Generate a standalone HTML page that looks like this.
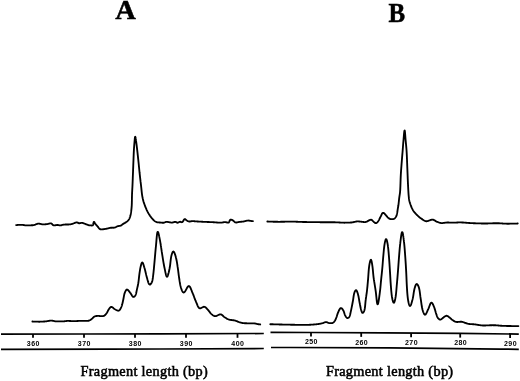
<!DOCTYPE html>
<html><head><meta charset="utf-8"><style>
html,body{margin:0;padding:0;background:#fff;}
body{width:520px;height:381px;overflow:hidden;position:relative;}
svg{position:absolute;left:0;top:0;display:block;will-change:transform;}
.tk{font-family:"Liberation Sans",sans-serif;font-size:7px;text-anchor:middle;letter-spacing:0.8px;fill:#000;}
.tb{font-weight:bold;letter-spacing:0.4px;}
.lbl{font-family:"Liberation Serif",serif;font-weight:bold;font-size:27px;fill:#000;stroke:#000;stroke-width:0.5px;}
.xl{font-family:"Liberation Serif",serif;font-size:14.3px;letter-spacing:0.3px;fill:#000;stroke:#000;stroke-width:0.55px;}
</style></head><body>
<svg width="520" height="381" viewBox="0 0 520 381">
<text x="115.3" y="18.7" class="lbl" textLength="20.6" lengthAdjust="spacingAndGlyphs">A</text>
<text x="388.6" y="21.7" class="lbl" textLength="16.6" lengthAdjust="spacingAndGlyphs">B</text>
<g fill="none" stroke="#000" stroke-width="1.85" stroke-linejoin="round" stroke-linecap="round">
<path d="M16.14 225.16 L16.46 225.11 L16.90 225.05 L17.39 224.99 L17.88 224.94 L18.38 224.90 L18.88 224.87 L19.38 224.85 L19.88 224.83 L20.38 224.81 L20.88 224.81 L21.38 224.81 L21.88 224.82 L22.38 224.85 L22.87 224.91 L23.37 224.99 L23.86 225.07 L24.35 225.16 L24.84 225.25 L25.34 225.32 L25.83 225.36 L26.33 225.39 L26.83 225.39 L27.33 225.39 L27.83 225.39 L28.33 225.38 L28.83 225.37 L29.33 225.36 L29.83 225.34 L30.33 225.33 L30.83 225.31 L31.33 225.29 L31.83 225.27 L32.33 225.24 L32.83 225.21 L33.32 225.16 L33.82 225.08 L34.30 224.96 L34.77 224.81 L35.24 224.64 L35.70 224.45 L36.16 224.26 L36.63 224.07 L37.10 223.91 L37.58 223.77 L38.07 223.68 L38.56 223.64 L39.06 223.66 L39.55 223.71 L40.04 223.80 L40.53 223.91 L41.01 224.03 L41.50 224.14 L41.99 224.25 L42.48 224.32 L42.98 224.37 L43.48 224.38 L43.98 224.37 L44.48 224.35 L44.97 224.32 L45.47 224.27 L45.97 224.22 L46.47 224.17 L46.96 224.11 L47.46 224.04 L47.95 223.95 L48.43 223.84 L48.91 223.70 L49.39 223.55 L49.87 223.42 L50.35 223.32 L50.83 223.31 L51.28 223.43 L51.68 223.68 L52.04 224.01 L52.37 224.38 L52.71 224.74 L53.07 225.07 L53.48 225.30 L53.94 225.41 L54.42 225.41 L54.91 225.35 L55.40 225.26 L55.89 225.16 L56.38 225.07 L56.88 224.99 L57.37 224.95 L57.86 224.97 L58.35 225.06 L58.83 225.19 L59.30 225.33 L59.79 225.42 L60.28 225.43 L60.77 225.37 L61.25 225.27 L61.73 225.13 L62.21 224.98 L62.69 224.84 L63.17 224.72 L63.66 224.64 L64.16 224.59 L64.66 224.56 L65.16 224.54 L65.66 224.53 L66.16 224.52 L66.66 224.51 L67.16 224.50 L67.66 224.49 L68.16 224.47 L68.66 224.46 L69.16 224.44 L69.65 224.41 L70.15 224.36 L70.64 224.29 L71.13 224.19 L71.61 224.06 L72.09 223.92 L72.57 223.77 L73.04 223.61 L73.52 223.44 L73.98 223.26 L74.44 223.07 L74.90 222.87 L75.36 222.68 L75.84 222.53 L76.32 222.42 L76.80 222.39 L77.27 222.48 L77.71 222.67 L78.14 222.90 L78.58 223.13 L79.03 223.26 L79.51 223.28 L79.99 223.20 L80.46 223.06 L80.94 222.94 L81.43 222.87 L81.92 222.88 L82.41 222.95 L82.89 223.07 L83.36 223.23 L83.83 223.40 L84.30 223.58 L84.76 223.76 L85.23 223.94 L85.70 224.11 L86.17 224.28 L86.64 224.46 L87.10 224.64 L87.57 224.82 L88.04 224.99 L88.51 225.14 L89.00 225.26 L89.49 225.34 L89.98 225.40 L90.48 225.43 L90.98 225.45 L91.48 225.47 L91.98 225.47 L92.44 225.43 L92.83 225.27 L93.10 224.95 L93.26 224.52 L93.35 224.04 L93.42 223.55 L93.49 223.05 L93.57 222.57 L93.69 222.15 L93.88 221.90 L94.13 221.93 L94.39 222.21 L94.63 222.61 L94.88 223.04 L95.14 223.46 L95.42 223.88 L95.73 224.27 L96.04 224.66 L96.37 225.04 L96.70 225.42 L97.03 225.79 L97.36 226.16 L97.69 226.54 L97.99 226.93 L98.29 227.33 L98.59 227.74 L98.89 228.13 L99.22 228.51 L99.57 228.85 L99.97 229.12 L100.42 229.29 L100.90 229.36 L101.40 229.37 L101.89 229.34 L102.39 229.31 L102.89 229.27 L103.39 229.22 L103.89 229.17 L104.38 229.11 L104.87 229.03 L105.37 228.94 L105.86 228.84 L106.35 228.74 L106.84 228.64 L107.32 228.53 L107.81 228.42 L108.30 228.31 L108.78 228.18 L109.27 228.06 L109.75 227.94 L110.24 227.84 L110.73 227.77 L111.23 227.73 L111.73 227.71 L112.23 227.70 L112.73 227.70 L113.23 227.70 L113.73 227.70 L114.23 227.67 L114.71 227.61 L115.18 227.47 L115.63 227.26 L116.05 227.00 L116.47 226.74 L116.91 226.50 L117.36 226.30 L117.83 226.16 L118.32 226.06 L118.82 225.99 L119.31 225.92 L119.80 225.84 L120.29 225.74 L120.76 225.58 L121.20 225.36 L121.61 225.09 L122.00 224.78 L122.38 224.46 L122.77 224.14 L123.17 223.85 L123.60 223.59 L124.03 223.35 L124.48 223.12 L124.92 222.88 L125.35 222.63 L125.78 222.37 L126.19 222.09 L126.60 221.80 L127.00 221.50 L127.38 221.18 L127.75 220.85 L128.10 220.49 L128.42 220.11 L128.73 219.72 L129.01 219.30 L129.26 218.87 L129.49 218.43 L129.69 217.97 L129.87 217.51 L130.03 217.04 L130.18 216.56 L130.32 216.08 L130.45 215.60 L130.57 215.11 L130.67 214.62 L130.77 214.13 L130.86 213.64 L130.93 213.15 L131.01 212.65 L131.08 212.16 L131.14 211.66 L131.21 211.17 L131.27 210.67 L131.33 210.17 L131.39 209.68 L131.44 209.18 L131.49 208.68 L131.54 208.18 L131.58 207.69 L131.62 207.19 L131.66 206.69 L131.70 206.19 L131.73 205.69 L131.75 205.19 L131.78 204.69 L131.80 204.19 L131.82 203.69 L131.83 203.19 L131.84 202.69 L131.86 202.19 L131.87 201.69 L131.88 201.19 L131.89 200.69 L131.90 200.19 L131.90 199.69 L131.91 199.19 L131.92 198.69 L131.93 198.19 L131.94 197.69 L131.95 197.19 L131.96 196.69 L131.97 196.19 L131.98 195.69 L132.00 195.19 L132.01 194.70 L132.03 194.20 L132.05 193.70 L132.07 193.20 L132.09 192.70 L132.12 192.20 L132.14 191.70 L132.17 191.20 L132.19 190.70 L132.22 190.20 L132.25 189.70 L132.28 189.20 L132.31 188.70 L132.33 188.20 L132.36 187.70 L132.39 187.20 L132.42 186.71 L132.44 186.21 L132.47 185.71 L132.49 185.21 L132.51 184.71 L132.53 184.21 L132.56 183.71 L132.58 183.21 L132.60 182.71 L132.62 182.21 L132.64 181.71 L132.66 181.21 L132.68 180.71 L132.70 180.21 L132.72 179.71 L132.74 179.21 L132.76 178.71 L132.78 178.21 L132.79 177.71 L132.81 177.21 L132.83 176.71 L132.85 176.21 L132.87 175.72 L132.89 175.22 L132.91 174.72 L132.93 174.22 L132.95 173.72 L132.97 173.22 L132.99 172.72 L133.01 172.22 L133.03 171.72 L133.05 171.22 L133.06 170.72 L133.08 170.22 L133.10 169.72 L133.12 169.22 L133.14 168.72 L133.16 168.22 L133.18 167.72 L133.20 167.22 L133.22 166.72 L133.24 166.22 L133.25 165.72 L133.27 165.22 L133.29 164.72 L133.31 164.22 L133.33 163.72 L133.35 163.22 L133.37 162.72 L133.39 162.23 L133.41 161.73 L133.43 161.23 L133.45 160.73 L133.47 160.23 L133.49 159.73 L133.51 159.23 L133.53 158.73 L133.54 158.23 L133.56 157.73 L133.58 157.23 L133.60 156.73 L133.62 156.23 L133.64 155.73 L133.66 155.23 L133.68 154.73 L133.70 154.23 L133.72 153.73 L133.74 153.23 L133.76 152.73 L133.79 152.23 L133.81 151.73 L133.84 151.23 L133.86 150.73 L133.89 150.24 L133.92 149.74 L133.94 149.24 L133.97 148.74 L134.01 148.24 L134.04 147.74 L134.07 147.24 L134.11 146.74 L134.14 146.24 L134.18 145.75 L134.22 145.25 L134.26 144.75 L134.30 144.25 L134.34 143.75 L134.39 143.25 L134.43 142.76 L134.48 142.26 L134.52 141.76 L134.56 141.26 L134.61 140.76 L134.65 140.27 L134.69 139.77 L134.74 139.27 L134.78 138.77 L134.84 138.27 L134.89 137.78 L134.96 137.30 L135.07 136.91 L135.20 136.74 L135.35 136.87 L135.47 137.23 L135.57 137.70 L135.66 138.19 L135.73 138.69 L135.81 139.18 L135.88 139.67 L135.95 140.17 L136.01 140.67 L136.08 141.16 L136.15 141.66 L136.22 142.15 L136.29 142.65 L136.36 143.14 L136.43 143.64 L136.49 144.13 L136.56 144.63 L136.62 145.12 L136.68 145.62 L136.74 146.12 L136.80 146.61 L136.86 147.11 L136.92 147.61 L136.98 148.10 L137.04 148.60 L137.09 149.10 L137.15 149.59 L137.21 150.09 L137.27 150.59 L137.33 151.08 L137.38 151.58 L137.44 152.08 L137.49 152.57 L137.55 153.07 L137.60 153.57 L137.66 154.06 L137.71 154.56 L137.77 155.06 L137.82 155.56 L137.88 156.05 L137.93 156.55 L137.98 157.05 L138.04 157.54 L138.09 158.04 L138.14 158.54 L138.19 159.04 L138.25 159.53 L138.30 160.03 L138.35 160.53 L138.40 161.02 L138.45 161.52 L138.51 162.02 L138.56 162.52 L138.61 163.01 L138.66 163.51 L138.71 164.01 L138.76 164.51 L138.81 165.00 L138.85 165.50 L138.90 166.00 L138.95 166.50 L139.00 166.99 L139.05 167.49 L139.10 167.99 L139.15 168.49 L139.20 168.98 L139.25 169.48 L139.29 169.98 L139.34 170.48 L139.39 170.98 L139.44 171.47 L139.49 171.97 L139.54 172.47 L139.60 172.96 L139.65 173.46 L139.70 173.96 L139.75 174.46 L139.81 174.95 L139.86 175.45 L139.91 175.95 L139.97 176.44 L140.03 176.94 L140.08 177.44 L140.14 177.94 L140.20 178.43 L140.25 178.93 L140.31 179.43 L140.37 179.92 L140.43 180.42 L140.49 180.92 L140.55 181.41 L140.60 181.91 L140.66 182.40 L140.72 182.90 L140.78 183.40 L140.84 183.89 L140.90 184.39 L140.96 184.89 L141.01 185.38 L141.07 185.88 L141.13 186.38 L141.18 186.87 L141.24 187.37 L141.29 187.87 L141.35 188.37 L141.40 188.86 L141.45 189.36 L141.50 189.86 L141.55 190.36 L141.60 190.85 L141.65 191.35 L141.71 191.85 L141.76 192.34 L141.82 192.84 L141.88 193.34 L141.94 193.83 L142.01 194.33 L142.08 194.82 L142.15 195.32 L142.23 195.81 L142.32 196.30 L142.41 196.80 L142.50 197.29 L142.60 197.78 L142.70 198.27 L142.81 198.75 L142.92 199.24 L143.04 199.73 L143.16 200.21 L143.29 200.70 L143.42 201.18 L143.56 201.66 L143.71 202.13 L143.86 202.61 L144.02 203.09 L144.18 203.56 L144.34 204.03 L144.51 204.50 L144.68 204.98 L144.85 205.44 L145.02 205.91 L145.20 206.38 L145.39 206.85 L145.57 207.31 L145.76 207.77 L145.96 208.23 L146.16 208.69 L146.36 209.15 L146.56 209.60 L146.77 210.06 L146.99 210.51 L147.20 210.96 L147.43 211.41 L147.65 211.85 L147.89 212.29 L148.13 212.73 L148.37 213.17 L148.62 213.60 L148.88 214.03 L149.15 214.45 L149.41 214.88 L149.69 215.29 L149.97 215.71 L150.26 216.12 L150.55 216.52 L150.85 216.92 L151.15 217.32 L151.47 217.71 L151.78 218.10 L152.10 218.48 L152.43 218.86 L152.75 219.24 L153.09 219.61 L153.43 219.97 L153.79 220.32 L154.17 220.64 L154.57 220.95 L154.98 221.23 L155.40 221.49 L155.84 221.73 L156.29 221.95 L156.75 222.14 L157.22 222.28 L157.71 222.37 L158.21 222.42 L158.71 222.45 L159.20 222.47 L159.70 222.49 L160.20 222.52 L160.70 222.56 L161.20 222.61 L161.70 222.67 L162.19 222.71 L162.69 222.75 L163.19 222.76 L163.68 222.73 L164.16 222.62 L164.63 222.46 L165.09 222.26 L165.55 222.08 L166.02 221.93 L166.50 221.86 L167.00 221.85 L167.49 221.89 L167.99 221.96 L168.48 222.05 L168.97 222.15 L169.46 222.26 L169.95 222.35 L170.44 222.44 L170.93 222.51 L171.43 222.56 L171.92 222.56 L172.42 222.51 L172.91 222.42 L173.39 222.28 L173.86 222.14 L174.34 222.01 L174.83 221.91 L175.31 221.89 L175.78 221.98 L176.23 222.17 L176.66 222.40 L177.09 222.62 L177.54 222.74 L177.99 222.70 L178.42 222.52 L178.83 222.26 L179.24 221.99 L179.68 221.80 L180.13 221.75 L180.59 221.85 L181.04 222.02 L181.48 222.18 L181.92 222.21 L182.33 222.07 L182.68 221.77 L182.97 221.38 L183.22 220.95 L183.46 220.51 L183.70 220.07 L183.97 219.66 L184.29 219.33 L184.66 219.14 L185.07 219.16 L185.46 219.38 L185.83 219.69 L186.20 220.02 L186.59 220.32 L187.01 220.59 L187.44 220.84 L187.88 221.07 L188.34 221.27 L188.81 221.43 L189.29 221.52 L189.78 221.52 L190.27 221.46 L190.75 221.35 L191.24 221.23 L191.73 221.16 L192.22 221.12 L192.72 221.13 L193.22 221.15 L193.72 221.18 L194.22 221.21 L194.72 221.25 L195.21 221.30 L195.71 221.34 L196.21 221.38 L196.71 221.43 L197.21 221.46 L197.71 221.50 L198.21 221.53 L198.70 221.56 L199.20 221.59 L199.70 221.61 L200.20 221.64 L200.70 221.67 L201.20 221.70 L201.70 221.72 L202.20 221.75 L202.70 221.77 L203.20 221.80 L203.70 221.82 L204.20 221.84 L204.70 221.87 L205.20 221.89 L205.70 221.91 L206.19 221.93 L206.69 221.95 L207.19 221.97 L207.69 221.99 L208.19 222.01 L208.69 222.03 L209.19 222.04 L209.69 222.06 L210.19 222.08 L210.69 222.10 L211.19 222.12 L211.69 222.14 L212.19 222.16 L212.69 222.18 L213.19 222.21 L213.69 222.24 L214.19 222.27 L214.69 222.31 L215.18 222.35 L215.68 222.39 L216.18 222.43 L216.68 222.47 L217.18 222.51 L217.68 222.55 L218.17 222.59 L218.67 222.62 L219.17 222.65 L219.67 222.67 L220.17 222.69 L220.67 222.69 L221.17 222.66 L221.67 222.62 L222.16 222.55 L222.65 222.46 L223.14 222.36 L223.63 222.27 L224.13 222.20 L224.62 222.15 L225.12 222.14 L225.62 222.18 L226.11 222.26 L226.59 222.37 L227.08 222.49 L227.56 222.61 L228.03 222.67 L228.47 222.62 L228.84 222.39 L229.12 222.03 L229.33 221.59 L229.51 221.13 L229.69 220.66 L229.90 220.23 L230.19 219.88 L230.56 219.68 L231.00 219.66 L231.47 219.76 L231.94 219.93 L232.39 220.13 L232.83 220.36 L233.24 220.64 L233.62 220.96 L233.98 221.31 L234.33 221.66 L234.69 221.99 L235.09 222.27 L235.53 222.45 L236.01 222.52 L236.50 222.50 L236.99 222.42 L237.47 222.31 L237.96 222.20 L238.45 222.10 L238.94 222.01 L239.44 221.94 L239.93 221.88 L240.43 221.83 L240.93 221.78 L241.42 221.73 L241.92 221.68 L242.42 221.63 L242.92 221.57 L243.41 221.50 L243.90 221.41 L244.39 221.31 L244.87 221.19 L245.36 221.06 L245.84 220.92 L246.32 220.80 L246.81 220.69 L247.30 220.60 L247.80 220.55 L248.29 220.54 L248.79 220.58 L249.28 220.66 L249.77 220.75 L250.26 220.85 L250.75 220.93 L251.25 220.99 L251.74 221.05 L252.22 221.11 L252.65 221.15 L252.90 221.17"/>
<path d="M32.40 321.51 L32.74 321.53 L33.20 321.56 L33.70 321.58 L34.20 321.61 L34.70 321.63 L35.20 321.64 L35.70 321.66 L36.20 321.67 L36.70 321.68 L37.20 321.69 L37.70 321.69 L38.20 321.70 L38.70 321.70 L39.20 321.70 L39.70 321.70 L40.20 321.69 L40.70 321.68 L41.20 321.67 L41.70 321.65 L42.19 321.63 L42.69 321.60 L43.19 321.57 L43.69 321.54 L44.19 321.51 L44.69 321.47 L45.19 321.44 L45.69 321.40 L46.18 321.34 L46.68 321.27 L47.17 321.19 L47.66 321.10 L48.15 321.00 L48.64 320.90 L49.14 320.81 L49.63 320.73 L50.12 320.67 L50.62 320.63 L51.12 320.62 L51.62 320.64 L52.12 320.69 L52.61 320.76 L53.10 320.85 L53.59 320.96 L54.08 321.06 L54.57 321.16 L55.06 321.25 L55.55 321.32 L56.05 321.37 L56.55 321.39 L57.05 321.40 L57.55 321.40 L58.05 321.40 L58.55 321.40 L59.05 321.40 L59.55 321.40 L60.05 321.40 L60.55 321.40 L61.05 321.40 L61.55 321.40 L62.05 321.40 L62.55 321.40 L63.05 321.38 L63.55 321.35 L64.05 321.31 L64.54 321.25 L65.04 321.19 L65.53 321.12 L66.03 321.05 L66.53 321.00 L67.02 320.95 L67.52 320.92 L68.02 320.91 L68.52 320.91 L69.02 320.93 L69.52 320.96 L70.02 320.99 L70.52 321.02 L71.02 321.06 L71.52 321.10 L72.01 321.13 L72.51 321.16 L73.01 321.18 L73.51 321.19 L74.01 321.19 L74.51 321.18 L75.01 321.17 L75.51 321.14 L76.01 321.11 L76.51 321.08 L77.01 321.04 L77.51 321.00 L78.01 320.97 L78.50 320.93 L79.00 320.89 L79.50 320.86 L80.00 320.84 L80.50 320.82 L81.00 320.81 L81.50 320.80 L82.00 320.80 L82.50 320.80 L83.00 320.80 L83.50 320.80 L84.00 320.80 L84.50 320.80 L85.00 320.80 L85.50 320.80 L86.00 320.80 L86.50 320.80 L87.00 320.80 L87.50 320.80 L88.00 320.79 L88.49 320.75 L88.97 320.64 L89.43 320.46 L89.87 320.22 L90.29 319.95 L90.71 319.67 L91.12 319.39 L91.53 319.10 L91.92 318.79 L92.29 318.46 L92.65 318.11 L93.00 317.76 L93.36 317.41 L93.72 317.07 L94.11 316.76 L94.53 316.49 L94.98 316.30 L95.46 316.17 L95.95 316.09 L96.45 316.02 L96.95 315.97 L97.44 315.94 L97.94 315.92 L98.44 315.92 L98.94 315.94 L99.44 315.99 L99.93 316.05 L100.43 316.11 L100.93 316.16 L101.43 316.18 L101.92 316.17 L102.42 316.13 L102.92 316.06 L103.41 315.97 L103.88 315.83 L104.33 315.63 L104.74 315.35 L105.11 315.02 L105.45 314.66 L105.77 314.28 L106.08 313.88 L106.38 313.48 L106.68 313.08 L106.95 312.66 L107.21 312.23 L107.45 311.79 L107.67 311.35 L107.89 310.90 L108.12 310.46 L108.36 310.02 L108.61 309.59 L108.89 309.17 L109.18 308.76 L109.48 308.36 L109.79 307.97 L110.11 307.59 L110.47 307.26 L110.88 307.01 L111.33 306.90 L111.80 306.97 L112.24 307.17 L112.65 307.45 L113.04 307.76 L113.42 308.09 L113.79 308.42 L114.17 308.74 L114.57 309.04 L114.99 309.32 L115.42 309.57 L115.86 309.81 L116.30 310.04 L116.75 310.26 L117.20 310.47 L117.67 310.63 L118.15 310.71 L118.62 310.68 L119.06 310.49 L119.44 310.19 L119.77 309.82 L120.07 309.42 L120.34 309.00 L120.58 308.57 L120.82 308.13 L121.03 307.68 L121.24 307.22 L121.43 306.76 L121.61 306.29 L121.78 305.82 L121.93 305.35 L122.07 304.87 L122.20 304.38 L122.32 303.90 L122.44 303.41 L122.55 302.93 L122.66 302.44 L122.77 301.95 L122.87 301.46 L122.98 300.97 L123.09 300.48 L123.20 300.00 L123.31 299.51 L123.41 299.02 L123.50 298.53 L123.59 298.03 L123.67 297.54 L123.76 297.05 L123.84 296.56 L123.93 296.06 L124.03 295.57 L124.13 295.08 L124.24 294.60 L124.36 294.11 L124.50 293.63 L124.66 293.16 L124.82 292.69 L125.00 292.22 L125.20 291.76 L125.41 291.30 L125.63 290.86 L125.89 290.43 L126.18 290.03 L126.53 289.71 L126.94 289.55 L127.37 289.61 L127.78 289.84 L128.15 290.17 L128.48 290.55 L128.79 290.93 L129.10 291.33 L129.40 291.73 L129.70 292.13 L130.00 292.53 L130.31 292.92 L130.61 293.32 L130.89 293.73 L131.15 294.16 L131.41 294.59 L131.66 295.02 L131.92 295.45 L132.19 295.87 L132.48 296.27 L132.82 296.63 L133.21 296.88 L133.64 296.96 L134.08 296.83 L134.47 296.55 L134.81 296.20 L135.11 295.80 L135.38 295.38 L135.60 294.93 L135.78 294.47 L135.94 294.00 L136.08 293.52 L136.20 293.03 L136.31 292.54 L136.41 292.05 L136.50 291.56 L136.60 291.07 L136.70 290.58 L136.80 290.09 L136.90 289.60 L137.01 289.12 L137.13 288.63 L137.24 288.14 L137.35 287.66 L137.46 287.17 L137.57 286.68 L137.68 286.19 L137.79 285.70 L137.89 285.21 L137.99 284.72 L138.08 284.23 L138.17 283.74 L138.26 283.25 L138.34 282.75 L138.41 282.26 L138.48 281.77 L138.55 281.27 L138.61 280.77 L138.67 280.28 L138.73 279.78 L138.79 279.28 L138.84 278.79 L138.90 278.29 L138.95 277.79 L139.01 277.30 L139.06 276.80 L139.12 276.30 L139.18 275.81 L139.23 275.31 L139.30 274.81 L139.36 274.32 L139.43 273.82 L139.50 273.33 L139.57 272.83 L139.64 272.34 L139.71 271.84 L139.79 271.35 L139.87 270.85 L139.94 270.36 L140.02 269.87 L140.11 269.37 L140.19 268.88 L140.28 268.39 L140.38 267.90 L140.48 267.41 L140.59 266.92 L140.70 266.43 L140.81 265.95 L140.94 265.46 L141.06 264.98 L141.19 264.50 L141.33 264.01 L141.48 263.54 L141.65 263.08 L141.88 262.67 L142.18 262.46 L142.50 262.55 L142.78 262.88 L143.00 263.32 L143.19 263.78 L143.36 264.25 L143.52 264.73 L143.67 265.20 L143.81 265.68 L143.95 266.16 L144.08 266.64 L144.22 267.12 L144.35 267.61 L144.49 268.09 L144.63 268.57 L144.77 269.05 L144.91 269.53 L145.04 270.01 L145.17 270.49 L145.29 270.98 L145.41 271.46 L145.52 271.95 L145.63 272.44 L145.75 272.93 L145.86 273.41 L145.97 273.90 L146.08 274.39 L146.19 274.88 L146.31 275.36 L146.43 275.85 L146.55 276.33 L146.68 276.81 L146.82 277.29 L146.96 277.77 L147.10 278.25 L147.24 278.73 L147.38 279.21 L147.51 279.70 L147.65 280.18 L147.78 280.66 L147.92 281.14 L148.06 281.62 L148.21 282.10 L148.36 282.57 L148.54 283.04 L148.73 283.50 L148.95 283.94 L149.23 284.33 L149.59 284.58 L150.00 284.59 L150.38 284.37 L150.73 284.03 L151.03 283.64 L151.31 283.22 L151.56 282.79 L151.78 282.35 L151.98 281.89 L152.14 281.41 L152.28 280.93 L152.39 280.45 L152.50 279.96 L152.60 279.47 L152.68 278.98 L152.76 278.48 L152.84 277.99 L152.91 277.49 L152.97 277.00 L153.03 276.50 L153.09 276.01 L153.15 275.51 L153.20 275.01 L153.26 274.52 L153.32 274.02 L153.37 273.52 L153.43 273.03 L153.49 272.53 L153.55 272.03 L153.60 271.53 L153.65 271.04 L153.70 270.54 L153.75 270.04 L153.80 269.54 L153.85 269.05 L153.90 268.55 L153.94 268.05 L153.99 267.55 L154.03 267.06 L154.08 266.56 L154.12 266.06 L154.17 265.56 L154.21 265.06 L154.26 264.57 L154.30 264.07 L154.35 263.57 L154.39 263.07 L154.44 262.57 L154.49 262.08 L154.53 261.58 L154.58 261.08 L154.62 260.58 L154.67 260.08 L154.71 259.59 L154.75 259.09 L154.80 258.59 L154.84 258.09 L154.88 257.59 L154.93 257.10 L154.97 256.60 L155.01 256.10 L155.06 255.60 L155.10 255.10 L155.14 254.61 L155.19 254.11 L155.23 253.61 L155.27 253.11 L155.32 252.61 L155.36 252.11 L155.41 251.62 L155.45 251.12 L155.50 250.62 L155.55 250.12 L155.60 249.63 L155.64 249.13 L155.69 248.63 L155.74 248.13 L155.79 247.64 L155.84 247.14 L155.90 246.64 L155.95 246.14 L155.99 245.65 L156.04 245.15 L156.09 244.65 L156.13 244.15 L156.17 243.65 L156.21 243.16 L156.26 242.66 L156.30 242.16 L156.34 241.66 L156.38 241.16 L156.42 240.66 L156.46 240.17 L156.50 239.67 L156.55 239.17 L156.59 238.67 L156.63 238.17 L156.68 237.67 L156.72 237.18 L156.77 236.68 L156.82 236.18 L156.88 235.68 L156.93 235.19 L156.99 234.69 L157.06 234.20 L157.13 233.70 L157.21 233.21 L157.31 232.72 L157.43 232.25 L157.62 231.90 L157.86 231.82 L158.09 232.08 L158.27 232.51 L158.41 232.99 L158.54 233.47 L158.66 233.95 L158.77 234.44 L158.88 234.93 L158.99 235.42 L159.09 235.91 L159.19 236.40 L159.30 236.88 L159.40 237.37 L159.49 237.87 L159.59 238.36 L159.69 238.85 L159.79 239.34 L159.88 239.83 L159.98 240.32 L160.07 240.81 L160.16 241.30 L160.24 241.79 L160.33 242.29 L160.41 242.78 L160.49 243.27 L160.57 243.77 L160.65 244.26 L160.73 244.75 L160.80 245.25 L160.88 245.74 L160.95 246.24 L161.02 246.73 L161.09 247.23 L161.17 247.72 L161.24 248.22 L161.31 248.71 L161.38 249.21 L161.45 249.70 L161.53 250.20 L161.60 250.69 L161.67 251.19 L161.75 251.68 L161.82 252.17 L161.90 252.67 L161.98 253.16 L162.06 253.66 L162.14 254.15 L162.22 254.64 L162.30 255.14 L162.38 255.63 L162.46 256.12 L162.54 256.62 L162.62 257.11 L162.70 257.60 L162.77 258.10 L162.85 258.59 L162.93 259.09 L163.01 259.58 L163.09 260.07 L163.17 260.57 L163.25 261.06 L163.33 261.55 L163.42 262.05 L163.50 262.54 L163.58 263.03 L163.67 263.52 L163.76 264.02 L163.85 264.51 L163.94 265.00 L164.03 265.49 L164.13 265.98 L164.22 266.47 L164.32 266.96 L164.42 267.45 L164.52 267.94 L164.63 268.43 L164.73 268.92 L164.83 269.41 L164.93 269.90 L165.03 270.39 L165.12 270.88 L165.22 271.37 L165.32 271.86 L165.42 272.35 L165.53 272.84 L165.64 273.33 L165.75 273.82 L165.86 274.30 L165.99 274.79 L166.12 275.27 L166.27 275.74 L166.45 276.20 L166.69 276.58 L167.00 276.75 L167.31 276.60 L167.57 276.23 L167.77 275.78 L167.93 275.31 L168.08 274.83 L168.22 274.35 L168.36 273.87 L168.48 273.39 L168.60 272.90 L168.72 272.42 L168.83 271.93 L168.94 271.44 L169.05 270.95 L169.15 270.46 L169.26 269.97 L169.36 269.49 L169.46 269.00 L169.56 268.51 L169.65 268.01 L169.74 267.52 L169.83 267.03 L169.91 266.54 L169.98 266.04 L170.05 265.55 L170.11 265.05 L170.18 264.55 L170.24 264.06 L170.29 263.56 L170.35 263.06 L170.40 262.57 L170.46 262.07 L170.51 261.57 L170.57 261.08 L170.62 260.58 L170.68 260.08 L170.74 259.59 L170.81 259.09 L170.88 258.60 L170.95 258.10 L171.03 257.61 L171.12 257.12 L171.21 256.62 L171.31 256.13 L171.42 255.65 L171.54 255.16 L171.67 254.68 L171.82 254.20 L171.97 253.73 L172.14 253.25 L172.32 252.79 L172.52 252.33 L172.77 251.91 L173.07 251.60 L173.43 251.53 L173.78 251.73 L174.07 252.11 L174.30 252.54 L174.51 253.00 L174.69 253.46 L174.86 253.93 L175.02 254.41 L175.18 254.88 L175.32 255.36 L175.47 255.84 L175.60 256.32 L175.74 256.80 L175.86 257.29 L175.99 257.77 L176.11 258.26 L176.23 258.74 L176.34 259.23 L176.45 259.72 L176.55 260.21 L176.65 260.70 L176.74 261.19 L176.83 261.68 L176.91 262.17 L177.00 262.67 L177.08 263.16 L177.15 263.65 L177.23 264.15 L177.30 264.64 L177.38 265.14 L177.45 265.63 L177.52 266.13 L177.60 266.62 L177.67 267.12 L177.74 267.61 L177.82 268.10 L177.89 268.60 L177.96 269.09 L178.03 269.59 L178.10 270.08 L178.16 270.58 L178.23 271.08 L178.29 271.57 L178.35 272.07 L178.41 272.56 L178.48 273.06 L178.54 273.56 L178.60 274.05 L178.66 274.55 L178.73 275.04 L178.79 275.54 L178.86 276.04 L178.93 276.53 L179.00 277.03 L179.07 277.52 L179.14 278.02 L179.22 278.51 L179.29 279.00 L179.37 279.50 L179.44 279.99 L179.51 280.49 L179.59 280.98 L179.66 281.48 L179.74 281.97 L179.81 282.47 L179.89 282.96 L179.98 283.45 L180.06 283.94 L180.15 284.44 L180.25 284.93 L180.35 285.42 L180.46 285.90 L180.58 286.39 L180.70 286.87 L180.83 287.36 L180.98 287.84 L181.13 288.31 L181.29 288.78 L181.46 289.25 L181.64 289.72 L181.83 290.18 L182.04 290.64 L182.26 291.09 L182.50 291.52 L182.78 291.93 L183.10 292.29 L183.49 292.51 L183.92 292.51 L184.31 292.30 L184.66 291.96 L184.95 291.56 L185.23 291.14 L185.48 290.71 L185.73 290.28 L185.97 289.84 L186.20 289.40 L186.44 288.96 L186.67 288.51 L186.92 288.08 L187.17 287.64 L187.43 287.22 L187.71 286.81 L188.03 286.44 L188.41 286.15 L188.83 286.05 L189.25 286.17 L189.61 286.47 L189.92 286.85 L190.18 287.28 L190.41 287.72 L190.63 288.17 L190.83 288.63 L191.02 289.09 L191.21 289.55 L191.39 290.02 L191.57 290.49 L191.75 290.95 L191.93 291.42 L192.11 291.88 L192.31 292.34 L192.50 292.80 L192.70 293.26 L192.90 293.72 L193.08 294.19 L193.27 294.65 L193.44 295.12 L193.62 295.59 L193.79 296.06 L193.96 296.53 L194.13 297.00 L194.29 297.47 L194.46 297.94 L194.63 298.41 L194.81 298.88 L194.99 299.35 L195.17 299.81 L195.36 300.27 L195.55 300.73 L195.76 301.19 L195.96 301.65 L196.17 302.10 L196.36 302.56 L196.55 303.03 L196.73 303.49 L196.91 303.96 L197.10 304.42 L197.29 304.89 L197.48 305.35 L197.69 305.80 L197.90 306.25 L198.14 306.69 L198.40 307.12 L198.69 307.52 L199.02 307.88 L199.42 308.15 L199.87 308.30 L200.34 308.28 L200.81 308.15 L201.26 307.94 L201.71 307.71 L202.15 307.48 L202.59 307.25 L203.04 307.04 L203.51 306.87 L203.99 306.78 L204.47 306.80 L204.93 306.95 L205.35 307.19 L205.74 307.50 L206.11 307.84 L206.45 308.20 L206.78 308.57 L207.11 308.95 L207.45 309.32 L207.79 309.69 L208.13 310.06 L208.45 310.43 L208.77 310.82 L209.07 311.22 L209.37 311.62 L209.67 312.02 L209.97 312.42 L210.27 312.82 L210.59 313.20 L210.93 313.57 L211.28 313.92 L211.66 314.25 L212.05 314.57 L212.44 314.87 L212.84 315.17 L213.26 315.45 L213.69 315.70 L214.13 315.92 L214.60 316.07 L215.09 316.15 L215.58 316.13 L216.06 316.03 L216.54 315.88 L217.00 315.68 L217.45 315.47 L217.89 315.24 L218.34 315.02 L218.79 314.80 L219.25 314.61 L219.72 314.46 L220.21 314.37 L220.69 314.37 L221.17 314.49 L221.61 314.70 L222.02 314.98 L222.41 315.29 L222.77 315.63 L223.13 315.98 L223.49 316.32 L223.86 316.66 L224.24 316.98 L224.64 317.28 L225.06 317.55 L225.49 317.82 L225.92 318.07 L226.35 318.33 L226.78 318.58 L227.22 318.82 L227.66 319.04 L228.12 319.25 L228.58 319.43 L229.06 319.59 L229.54 319.72 L230.03 319.82 L230.52 319.91 L231.01 319.98 L231.51 320.04 L232.01 320.10 L232.50 320.16 L233.00 320.22 L233.50 320.28 L233.99 320.36 L234.48 320.45 L234.97 320.55 L235.45 320.69 L235.92 320.85 L236.39 321.02 L236.85 321.21 L237.31 321.41 L237.77 321.60 L238.24 321.79 L238.71 321.97 L239.18 322.13 L239.66 322.27 L240.14 322.41 L240.62 322.54 L241.10 322.67 L241.59 322.80 L242.07 322.91 L242.56 323.01 L243.06 323.09 L243.55 323.15 L244.05 323.20 L244.55 323.22 L245.05 323.25 L245.55 323.27 L246.05 323.28 L246.55 323.29 L247.05 323.30 L247.55 323.30 L248.05 323.30 L248.55 323.30 L249.05 323.30 L249.55 323.30 L250.05 323.30 L250.55 323.30 L251.05 323.30 L251.55 323.30 L252.05 323.30 L252.55 323.30 L253.05 323.30 L253.55 323.31 L254.04 323.34 L254.54 323.41 L255.03 323.49 L255.52 323.60 L256.01 323.72 L256.49 323.84 L256.98 323.95 L257.47 324.05 L257.96 324.14 L258.45 324.22 L258.95 324.29 L259.44 324.36 L259.90 324.42 L260.24 324.47"/>
<path d="M267.34 221.51 L267.67 221.53 L268.11 221.54 L268.60 221.56 L269.10 221.59 L269.60 221.60 L270.10 221.62 L270.60 221.64 L271.10 221.66 L271.60 221.67 L272.10 221.69 L272.60 221.70 L273.10 221.72 L273.60 221.73 L274.10 221.74 L274.60 221.75 L275.10 221.76 L275.60 221.77 L276.10 221.78 L276.60 221.78 L277.10 221.79 L277.60 221.79 L278.10 221.80 L278.60 221.80 L279.10 221.80 L279.60 221.80 L280.10 221.80 L280.60 221.79 L281.10 221.79 L281.60 221.78 L282.10 221.77 L282.59 221.76 L283.09 221.75 L283.59 221.74 L284.09 221.73 L284.59 221.71 L285.09 221.70 L285.59 221.69 L286.09 221.68 L286.59 221.66 L287.09 221.65 L287.59 221.64 L288.09 221.63 L288.59 221.62 L289.09 221.61 L289.59 221.61 L290.09 221.60 L290.59 221.60 L291.09 221.60 L291.59 221.60 L292.09 221.61 L292.59 221.62 L293.09 221.63 L293.59 221.64 L294.09 221.65 L294.59 221.66 L295.09 221.68 L295.59 221.70 L296.09 221.72 L296.59 221.74 L297.09 221.76 L297.59 221.78 L298.09 221.80 L298.59 221.82 L299.09 221.84 L299.59 221.86 L300.09 221.88 L300.59 221.90 L301.09 221.92 L301.59 221.93 L302.09 221.95 L302.59 221.97 L303.09 221.98 L303.59 221.99 L304.09 222.00 L304.59 222.01 L305.09 222.02 L305.59 222.03 L306.09 222.04 L306.59 222.04 L307.09 222.05 L307.59 222.06 L308.09 222.07 L308.59 222.07 L309.09 222.08 L309.59 222.09 L310.09 222.09 L310.59 222.10 L311.09 222.11 L311.59 222.11 L312.09 222.12 L312.59 222.13 L313.09 222.13 L313.59 222.14 L314.09 222.14 L314.59 222.15 L315.09 222.15 L315.59 222.16 L316.09 222.16 L316.59 222.17 L317.09 222.17 L317.59 222.18 L318.09 222.18 L318.59 222.19 L319.09 222.19 L319.58 222.20 L320.08 222.20 L320.58 222.20 L321.08 222.21 L321.58 222.21 L322.08 222.21 L322.58 222.22 L323.08 222.22 L323.58 222.22 L324.08 222.23 L324.58 222.23 L325.08 222.23 L325.58 222.23 L326.08 222.23 L326.58 222.24 L327.08 222.24 L327.58 222.24 L328.08 222.24 L328.58 222.24 L329.08 222.25 L329.58 222.25 L330.08 222.25 L330.58 222.25 L331.08 222.26 L331.58 222.26 L332.08 222.26 L332.58 222.27 L333.08 222.27 L333.58 222.28 L334.08 222.28 L334.58 222.28 L335.08 222.29 L335.58 222.30 L336.08 222.30 L336.58 222.32 L337.08 222.34 L337.58 222.36 L338.08 222.39 L338.58 222.42 L339.08 222.46 L339.58 222.49 L340.08 222.53 L340.58 222.56 L341.08 222.60 L341.57 222.63 L342.07 222.65 L342.57 222.67 L343.07 222.69 L343.57 222.70 L344.07 222.70 L344.57 222.70 L345.07 222.69 L345.57 222.69 L346.07 222.68 L346.57 222.67 L347.07 222.66 L347.57 222.64 L348.07 222.63 L348.57 222.61 L349.07 222.60 L349.57 222.58 L350.07 222.56 L350.57 222.54 L351.07 222.51 L351.57 222.47 L352.06 222.42 L352.56 222.35 L353.05 222.25 L353.54 222.14 L354.02 222.02 L354.51 221.90 L354.99 221.78 L355.48 221.67 L355.97 221.57 L356.46 221.50 L356.96 221.44 L357.46 221.42 L357.96 221.42 L358.45 221.44 L358.95 221.47 L359.45 221.52 L359.95 221.57 L360.44 221.63 L360.94 221.69 L361.44 221.76 L361.93 221.82 L362.43 221.88 L362.92 221.94 L363.42 221.99 L363.92 222.04 L364.42 222.07 L364.92 222.07 L365.41 222.03 L365.89 221.94 L366.36 221.78 L366.81 221.57 L367.26 221.34 L367.70 221.11 L368.14 220.88 L368.59 220.65 L369.03 220.42 L369.47 220.18 L369.92 219.96 L370.38 219.79 L370.85 219.72 L371.31 219.78 L371.74 219.97 L372.13 220.25 L372.49 220.59 L372.84 220.95 L373.19 221.31 L373.55 221.65 L373.92 221.98 L374.30 222.31 L374.69 222.62 L375.09 222.90 L375.52 223.09 L375.97 223.14 L376.41 223.02 L376.81 222.76 L377.17 222.43 L377.50 222.06 L377.81 221.67 L378.11 221.27 L378.40 220.86 L378.67 220.44 L378.92 220.01 L379.16 219.57 L379.38 219.13 L379.60 218.68 L379.82 218.23 L380.04 217.78 L380.26 217.33 L380.49 216.88 L380.72 216.44 L380.95 216.00 L381.16 215.54 L381.37 215.09 L381.58 214.63 L381.79 214.18 L382.02 213.74 L382.29 213.33 L382.61 213.00 L382.99 212.82 L383.41 212.84 L383.82 213.03 L384.20 213.34 L384.55 213.69 L384.88 214.06 L385.21 214.44 L385.54 214.81 L385.87 215.19 L386.20 215.56 L386.52 215.95 L386.84 216.34 L387.15 216.72 L387.48 217.10 L387.82 217.46 L388.19 217.80 L388.58 218.11 L388.99 218.40 L389.41 218.65 L389.86 218.86 L390.33 219.00 L390.81 219.07 L391.31 219.09 L391.81 219.10 L392.31 219.10 L392.81 219.09 L393.30 219.05 L393.77 218.95 L394.21 218.75 L394.60 218.46 L394.95 218.11 L395.27 217.73 L395.57 217.33 L395.84 216.91 L396.08 216.48 L396.30 216.03 L396.49 215.57 L396.66 215.10 L396.81 214.62 L396.93 214.14 L397.04 213.65 L397.14 213.16 L397.22 212.67 L397.31 212.17 L397.38 211.68 L397.45 211.19 L397.52 210.69 L397.59 210.19 L397.66 209.70 L397.74 209.21 L397.82 208.71 L397.90 208.22 L397.98 207.73 L398.06 207.23 L398.14 206.74 L398.22 206.25 L398.30 205.75 L398.38 205.26 L398.45 204.76 L398.51 204.27 L398.58 203.77 L398.64 203.27 L398.69 202.78 L398.74 202.28 L398.80 201.78 L398.85 201.29 L398.90 200.79 L398.95 200.29 L399.00 199.79 L399.05 199.30 L399.11 198.80 L399.17 198.30 L399.23 197.81 L399.30 197.31 L399.37 196.82 L399.44 196.32 L399.52 195.83 L399.60 195.33 L399.68 194.84 L399.76 194.35 L399.84 193.85 L399.91 193.36 L399.97 192.86 L400.03 192.37 L400.07 191.87 L400.11 191.37 L400.15 190.87 L400.18 190.37 L400.21 189.87 L400.24 189.37 L400.26 188.87 L400.29 188.37 L400.31 187.88 L400.33 187.38 L400.36 186.88 L400.38 186.38 L400.40 185.88 L400.41 185.38 L400.43 184.88 L400.45 184.38 L400.47 183.88 L400.48 183.38 L400.50 182.88 L400.51 182.38 L400.53 181.88 L400.55 181.38 L400.56 180.88 L400.58 180.38 L400.60 179.88 L400.61 179.38 L400.63 178.88 L400.65 178.38 L400.67 177.88 L400.69 177.38 L400.71 176.88 L400.73 176.38 L400.76 175.88 L400.78 175.38 L400.81 174.88 L400.83 174.39 L400.86 173.89 L400.89 173.39 L400.93 172.89 L400.96 172.39 L400.99 171.89 L401.03 171.39 L401.06 170.89 L401.10 170.39 L401.13 169.90 L401.17 169.40 L401.21 168.90 L401.24 168.40 L401.28 167.90 L401.32 167.40 L401.36 166.90 L401.39 166.41 L401.43 165.91 L401.47 165.41 L401.51 164.91 L401.54 164.41 L401.58 163.91 L401.62 163.41 L401.66 162.92 L401.70 162.42 L401.74 161.92 L401.78 161.42 L401.82 160.92 L401.86 160.42 L401.90 159.92 L401.94 159.43 L401.98 158.93 L402.02 158.43 L402.06 157.93 L402.10 157.43 L402.14 156.93 L402.18 156.44 L402.22 155.94 L402.26 155.44 L402.30 154.94 L402.34 154.44 L402.39 153.94 L402.43 153.45 L402.47 152.95 L402.51 152.45 L402.55 151.95 L402.59 151.45 L402.63 150.95 L402.67 150.46 L402.71 149.96 L402.74 149.46 L402.78 148.96 L402.82 148.46 L402.86 147.96 L402.89 147.46 L402.93 146.97 L402.97 146.47 L403.01 145.97 L403.05 145.47 L403.08 144.97 L403.12 144.47 L403.16 143.98 L403.20 143.48 L403.24 142.98 L403.28 142.48 L403.33 141.98 L403.37 141.48 L403.41 140.99 L403.46 140.49 L403.50 139.99 L403.55 139.49 L403.59 138.99 L403.63 138.50 L403.67 138.00 L403.71 137.50 L403.76 137.00 L403.80 136.50 L403.84 136.00 L403.88 135.51 L403.92 135.01 L403.97 134.51 L404.01 134.01 L404.06 133.51 L404.11 133.02 L404.16 132.52 L404.21 132.02 L404.27 131.53 L404.35 131.05 L404.45 130.64 L404.58 130.44 L404.71 130.55 L404.81 130.91 L404.88 131.37 L404.94 131.87 L404.99 132.36 L405.04 132.86 L405.08 133.36 L405.12 133.86 L405.16 134.36 L405.20 134.85 L405.24 135.35 L405.27 135.85 L405.31 136.35 L405.35 136.85 L405.38 137.35 L405.42 137.85 L405.46 138.34 L405.50 138.84 L405.54 139.34 L405.59 139.84 L405.63 140.34 L405.68 140.83 L405.73 141.33 L405.78 141.83 L405.83 142.33 L405.87 142.83 L405.92 143.32 L405.97 143.82 L406.02 144.32 L406.07 144.82 L406.12 145.31 L406.16 145.81 L406.21 146.31 L406.26 146.81 L406.30 147.30 L406.34 147.80 L406.38 148.30 L406.42 148.80 L406.46 149.30 L406.50 149.80 L406.53 150.30 L406.57 150.79 L406.60 151.29 L406.63 151.79 L406.66 152.29 L406.68 152.79 L406.71 153.29 L406.74 153.79 L406.76 154.29 L406.79 154.79 L406.81 155.29 L406.84 155.79 L406.86 156.29 L406.88 156.79 L406.90 157.29 L406.92 157.79 L406.94 158.28 L406.97 158.78 L406.99 159.28 L407.01 159.78 L407.03 160.28 L407.05 160.78 L407.06 161.28 L407.08 161.78 L407.10 162.28 L407.12 162.78 L407.14 163.28 L407.16 163.78 L407.18 164.28 L407.20 164.78 L407.21 165.28 L407.23 165.78 L407.25 166.28 L407.27 166.78 L407.29 167.28 L407.31 167.78 L407.33 168.28 L407.35 168.78 L407.37 169.28 L407.39 169.78 L407.41 170.28 L407.43 170.78 L407.45 171.27 L407.47 171.77 L407.49 172.27 L407.51 172.77 L407.53 173.27 L407.55 173.77 L407.57 174.27 L407.59 174.77 L407.61 175.27 L407.63 175.77 L407.65 176.27 L407.67 176.77 L407.69 177.27 L407.70 177.77 L407.72 178.27 L407.74 178.77 L407.77 179.27 L407.79 179.77 L407.81 180.27 L407.83 180.77 L407.85 181.27 L407.87 181.77 L407.90 182.27 L407.92 182.77 L407.94 183.26 L407.97 183.76 L407.99 184.26 L408.02 184.76 L408.04 185.26 L408.07 185.76 L408.09 186.26 L408.12 186.76 L408.14 187.26 L408.17 187.76 L408.19 188.26 L408.22 188.76 L408.24 189.26 L408.27 189.76 L408.30 190.26 L408.33 190.75 L408.36 191.25 L408.39 191.75 L408.42 192.25 L408.45 192.75 L408.48 193.25 L408.52 193.75 L408.55 194.25 L408.59 194.75 L408.63 195.24 L408.68 195.74 L408.72 196.24 L408.77 196.74 L408.82 197.24 L408.87 197.73 L408.92 198.23 L408.98 198.73 L409.05 199.22 L409.13 199.71 L409.23 200.21 L409.33 200.69 L409.45 201.18 L409.58 201.66 L409.72 202.14 L409.86 202.62 L410.01 203.10 L410.16 203.58 L410.32 204.05 L410.48 204.52 L410.64 205.00 L410.81 205.47 L410.98 205.94 L411.16 206.40 L411.35 206.87 L411.54 207.33 L411.75 207.78 L411.96 208.24 L412.17 208.69 L412.40 209.13 L412.64 209.57 L412.88 210.01 L413.14 210.44 L413.41 210.86 L413.69 211.27 L413.99 211.67 L414.30 212.06 L414.62 212.45 L414.95 212.82 L415.28 213.19 L415.62 213.56 L415.96 213.93 L416.31 214.29 L416.65 214.65 L417.00 215.01 L417.36 215.36 L417.72 215.71 L418.08 216.05 L418.45 216.39 L418.82 216.72 L419.20 217.05 L419.59 217.36 L419.98 217.67 L420.38 217.98 L420.78 218.27 L421.19 218.56 L421.60 218.84 L422.02 219.12 L422.44 219.39 L422.85 219.67 L423.27 219.95 L423.68 220.23 L424.11 220.49 L424.54 220.74 L424.99 220.95 L425.46 221.11 L425.94 221.22 L426.43 221.25 L426.92 221.21 L427.41 221.12 L427.89 220.99 L428.37 220.84 L428.83 220.67 L429.30 220.49 L429.77 220.31 L430.23 220.13 L430.71 219.97 L431.19 219.83 L431.67 219.72 L432.16 219.66 L432.65 219.67 L433.14 219.74 L433.61 219.89 L434.07 220.09 L434.50 220.32 L434.93 220.58 L435.36 220.85 L435.78 221.11 L436.21 221.36 L436.66 221.59 L437.11 221.79 L437.58 221.98 L438.04 222.16 L438.51 222.33 L438.98 222.50 L439.45 222.66 L439.93 222.80 L440.42 222.92 L440.91 223.01 L441.40 223.06 L441.90 223.07 L442.40 223.05 L442.89 223.01 L443.39 222.95 L443.89 222.88 L444.38 222.80 L444.87 222.72 L445.37 222.65 L445.86 222.59 L446.36 222.55 L446.86 222.52 L447.36 222.51 L447.86 222.51 L448.36 222.52 L448.86 222.53 L449.36 222.55 L449.86 222.57 L450.36 222.59 L450.86 222.61 L451.36 222.63 L451.86 222.65 L452.36 222.67 L452.86 222.68 L453.36 222.69 L453.86 222.69 L454.36 222.69 L454.86 222.67 L455.35 222.65 L455.85 222.61 L456.35 222.58 L456.85 222.54 L457.35 222.50 L457.85 222.46 L458.35 222.44 L458.85 222.42 L459.35 222.41 L459.85 222.41 L460.35 222.41 L460.85 222.42 L461.35 222.44 L461.85 222.46 L462.34 222.48 L462.84 222.51 L463.34 222.54 L463.84 222.57 L464.34 222.60 L464.84 222.64 L465.34 222.68 L465.84 222.72 L466.34 222.76 L466.83 222.80 L467.33 222.84 L467.83 222.88 L468.33 222.92 L468.83 222.96 L469.33 222.99 L469.82 223.03 L470.32 223.06 L470.82 223.10 L471.32 223.12 L471.82 223.15 L472.32 223.17 L472.82 223.20 L473.32 223.21 L473.82 223.23 L474.32 223.25 L474.82 223.27 L475.32 223.28 L475.82 223.30 L476.32 223.32 L476.82 223.34 L477.32 223.35 L477.82 223.37 L478.32 223.38 L478.82 223.40 L479.32 223.41 L479.82 223.43 L480.32 223.44 L480.82 223.45 L481.32 223.46 L481.82 223.47 L482.32 223.48 L482.82 223.48 L483.32 223.49 L483.82 223.49 L484.32 223.50 L484.82 223.50 L485.32 223.50 L485.82 223.49 L486.31 223.49 L486.81 223.48 L487.31 223.47 L487.81 223.46 L488.31 223.44 L488.81 223.43 L489.31 223.41 L489.81 223.39 L490.31 223.38 L490.81 223.36 L491.31 223.34 L491.81 223.32 L492.31 223.30 L492.81 223.29 L493.31 223.27 L493.81 223.26 L494.31 223.24 L494.81 223.23 L495.31 223.22 L495.81 223.21 L496.31 223.21 L496.81 223.20 L497.31 223.21 L497.81 223.21 L498.31 223.23 L498.81 223.25 L499.31 223.27 L499.81 223.30 L500.31 223.34 L500.81 223.37 L501.30 223.41 L501.80 223.45 L502.30 223.49 L502.80 223.53 L503.30 223.56 L503.80 223.60 L504.30 223.63 L504.80 223.65 L505.30 223.67 L505.79 223.69 L506.29 223.70 L506.79 223.70 L507.29 223.70 L507.79 223.70 L508.29 223.70 L508.79 223.70 L509.29 223.70 L509.79 223.69 L510.29 223.69 L510.79 223.69 L511.29 223.68 L511.79 223.68 L512.29 223.67 L512.79 223.67 L513.29 223.66 L513.79 223.65 L514.29 223.64 L514.79 223.62 L515.29 223.61 L515.79 223.59 L516.29 223.58 L516.79 223.56 L517.26 223.54 L517.64 223.52 L517.75 223.51"/>
<path d="M270.30 324.21 L270.64 324.22 L271.10 324.23 L271.60 324.25 L272.10 324.26 L272.60 324.28 L273.10 324.29 L273.60 324.31 L274.10 324.32 L274.60 324.34 L275.10 324.35 L275.60 324.37 L276.10 324.38 L276.60 324.40 L277.10 324.41 L277.60 324.42 L278.10 324.44 L278.60 324.45 L279.10 324.46 L279.60 324.48 L280.10 324.49 L280.60 324.50 L281.10 324.51 L281.60 324.53 L282.10 324.54 L282.60 324.55 L283.09 324.56 L283.59 324.57 L284.09 324.58 L284.59 324.59 L285.09 324.60 L285.59 324.61 L286.09 324.62 L286.59 324.63 L287.09 324.64 L287.59 324.65 L288.09 324.66 L288.59 324.67 L289.09 324.68 L289.59 324.69 L290.09 324.70 L290.59 324.71 L291.09 324.72 L291.59 324.73 L292.09 324.74 L292.59 324.75 L293.09 324.76 L293.59 324.77 L294.09 324.78 L294.59 324.79 L295.09 324.80 L295.59 324.81 L296.09 324.81 L296.59 324.82 L297.09 324.83 L297.59 324.84 L298.09 324.84 L298.59 324.85 L299.09 324.86 L299.59 324.86 L300.09 324.87 L300.59 324.87 L301.09 324.88 L301.59 324.88 L302.09 324.89 L302.59 324.89 L303.09 324.89 L303.59 324.90 L304.09 324.90 L304.59 324.90 L305.09 324.90 L305.59 324.90 L306.09 324.89 L306.59 324.89 L307.09 324.88 L307.59 324.86 L308.09 324.84 L308.59 324.82 L309.09 324.80 L309.59 324.78 L310.09 324.75 L310.59 324.72 L311.09 324.69 L311.59 324.65 L312.08 324.62 L312.58 324.58 L313.08 324.55 L313.58 324.51 L314.08 324.47 L314.58 324.43 L315.08 324.39 L315.57 324.35 L316.07 324.30 L316.57 324.24 L317.06 324.18 L317.56 324.12 L318.06 324.05 L318.55 323.98 L319.04 323.90 L319.54 323.82 L320.03 323.74 L320.52 323.65 L321.01 323.55 L321.50 323.44 L321.99 323.33 L322.47 323.21 L322.95 323.07 L323.42 322.90 L323.88 322.71 L324.34 322.50 L324.80 322.31 L325.27 322.15 L325.75 322.07 L326.24 322.07 L326.72 322.17 L327.19 322.35 L327.64 322.55 L328.10 322.75 L328.56 322.93 L329.05 323.05 L329.54 323.11 L330.04 323.14 L330.54 323.17 L331.04 323.18 L331.53 323.18 L332.03 323.14 L332.50 323.01 L332.94 322.79 L333.34 322.51 L333.72 322.18 L334.07 321.83 L334.40 321.45 L334.70 321.05 L334.96 320.63 L335.21 320.20 L335.43 319.75 L335.63 319.29 L335.83 318.83 L336.02 318.37 L336.21 317.91 L336.40 317.44 L336.57 316.98 L336.74 316.50 L336.89 316.03 L337.04 315.55 L337.19 315.07 L337.33 314.60 L337.48 314.12 L337.64 313.64 L337.81 313.17 L337.99 312.71 L338.18 312.25 L338.39 311.79 L338.59 311.33 L338.80 310.88 L339.01 310.43 L339.23 309.98 L339.46 309.53 L339.71 309.10 L340.00 308.70 L340.33 308.34 L340.72 308.10 L341.15 308.06 L341.56 308.23 L341.94 308.54 L342.27 308.91 L342.57 309.31 L342.85 309.72 L343.12 310.14 L343.37 310.58 L343.60 311.02 L343.80 311.48 L343.97 311.95 L344.13 312.42 L344.27 312.90 L344.42 313.38 L344.56 313.85 L344.72 314.33 L344.89 314.80 L345.09 315.26 L345.31 315.70 L345.56 316.14 L345.81 316.57 L346.09 316.98 L346.39 317.38 L346.73 317.73 L347.13 317.99 L347.57 318.07 L348.02 317.97 L348.44 317.73 L348.82 317.42 L349.15 317.05 L349.42 316.63 L349.63 316.19 L349.81 315.72 L349.96 315.24 L350.10 314.76 L350.21 314.28 L350.32 313.79 L350.42 313.30 L350.52 312.81 L350.62 312.32 L350.73 311.83 L350.84 311.34 L350.95 310.85 L351.06 310.37 L351.17 309.88 L351.27 309.39 L351.38 308.90 L351.48 308.41 L351.58 307.92 L351.68 307.43 L351.78 306.94 L351.87 306.45 L351.97 305.96 L352.06 305.47 L352.16 304.98 L352.25 304.49 L352.34 303.99 L352.43 303.50 L352.52 303.01 L352.62 302.52 L352.71 302.03 L352.80 301.54 L352.89 301.05 L352.98 300.55 L353.06 300.06 L353.14 299.57 L353.21 299.07 L353.28 298.58 L353.35 298.08 L353.42 297.59 L353.49 297.09 L353.56 296.60 L353.64 296.10 L353.72 295.61 L353.80 295.12 L353.90 294.63 L354.00 294.14 L354.11 293.65 L354.24 293.17 L354.38 292.69 L354.55 292.22 L354.74 291.75 L354.95 291.30 L355.20 290.87 L355.49 290.49 L355.83 290.24 L356.20 290.26 L356.53 290.53 L356.79 290.94 L357.01 291.39 L357.20 291.85 L357.37 292.32 L357.54 292.79 L357.69 293.26 L357.84 293.74 L357.98 294.22 L358.11 294.70 L358.23 295.19 L358.34 295.68 L358.45 296.17 L358.55 296.65 L358.64 297.15 L358.73 297.64 L358.82 298.13 L358.91 298.62 L358.99 299.12 L359.07 299.61 L359.15 300.10 L359.24 300.59 L359.32 301.09 L359.41 301.58 L359.50 302.07 L359.59 302.56 L359.69 303.05 L359.79 303.54 L359.89 304.03 L359.98 304.52 L360.07 305.02 L360.17 305.51 L360.26 306.00 L360.35 306.49 L360.45 306.98 L360.55 307.47 L360.66 307.96 L360.77 308.45 L360.89 308.93 L361.01 309.42 L361.15 309.90 L361.29 310.37 L361.45 310.85 L361.60 311.33 L361.78 311.79 L361.97 312.25 L362.22 312.64 L362.55 312.87 L362.92 312.81 L363.26 312.53 L363.56 312.14 L363.82 311.71 L364.05 311.27 L364.24 310.81 L364.40 310.34 L364.52 309.85 L364.63 309.37 L364.72 308.87 L364.81 308.38 L364.88 307.89 L364.95 307.39 L365.01 306.90 L365.07 306.40 L365.12 305.90 L365.17 305.41 L365.22 304.91 L365.26 304.41 L365.31 303.91 L365.35 303.41 L365.39 302.92 L365.44 302.42 L365.49 301.92 L365.54 301.42 L365.59 300.92 L365.65 300.43 L365.71 299.93 L365.78 299.44 L365.84 298.94 L365.91 298.45 L365.98 297.95 L366.05 297.46 L366.12 296.96 L366.20 296.47 L366.27 295.97 L366.34 295.48 L366.41 294.98 L366.48 294.49 L366.55 293.99 L366.62 293.50 L366.69 293.00 L366.75 292.50 L366.82 292.01 L366.88 291.51 L366.94 291.02 L367.00 290.52 L367.05 290.02 L367.11 289.53 L367.16 289.03 L367.21 288.53 L367.26 288.03 L367.31 287.54 L367.36 287.04 L367.41 286.54 L367.46 286.04 L367.50 285.55 L367.55 285.05 L367.59 284.55 L367.64 284.05 L367.68 283.55 L367.73 283.06 L367.77 282.56 L367.82 282.06 L367.86 281.56 L367.90 281.06 L367.95 280.57 L367.99 280.07 L368.04 279.57 L368.08 279.07 L368.12 278.57 L368.16 278.07 L368.20 277.58 L368.23 277.08 L368.27 276.58 L368.30 276.08 L368.34 275.58 L368.37 275.08 L368.41 274.58 L368.44 274.08 L368.48 273.59 L368.51 273.09 L368.55 272.59 L368.59 272.09 L368.62 271.59 L368.66 271.09 L368.70 270.59 L368.75 270.10 L368.79 269.60 L368.84 269.10 L368.89 268.60 L368.94 268.11 L369.00 267.61 L369.06 267.11 L369.12 266.62 L369.19 266.12 L369.26 265.63 L369.33 265.13 L369.42 264.64 L369.50 264.15 L369.60 263.66 L369.70 263.17 L369.80 262.68 L369.91 262.19 L370.02 261.70 L370.15 261.22 L370.29 260.74 L370.46 260.28 L370.67 259.91 L370.94 259.80 L371.18 260.02 L371.36 260.44 L371.50 260.91 L371.61 261.40 L371.72 261.89 L371.81 262.38 L371.90 262.87 L371.99 263.36 L372.07 263.86 L372.15 264.35 L372.23 264.85 L372.30 265.34 L372.37 265.83 L372.45 266.33 L372.51 266.82 L372.58 267.32 L372.64 267.82 L372.69 268.31 L372.75 268.81 L372.80 269.31 L372.85 269.81 L372.89 270.30 L372.94 270.80 L372.98 271.30 L373.03 271.80 L373.07 272.30 L373.11 272.79 L373.16 273.29 L373.21 273.79 L373.25 274.29 L373.30 274.78 L373.35 275.28 L373.41 275.78 L373.46 276.28 L373.52 276.77 L373.58 277.27 L373.65 277.76 L373.72 278.26 L373.78 278.76 L373.85 279.25 L373.92 279.75 L374.00 280.24 L374.07 280.73 L374.14 281.23 L374.22 281.72 L374.30 282.22 L374.38 282.71 L374.45 283.20 L374.53 283.70 L374.61 284.19 L374.69 284.69 L374.77 285.18 L374.85 285.67 L374.93 286.17 L375.01 286.66 L375.09 287.15 L375.17 287.65 L375.25 288.14 L375.33 288.64 L375.40 289.13 L375.48 289.62 L375.55 290.12 L375.63 290.61 L375.70 291.11 L375.77 291.60 L375.83 292.10 L375.90 292.59 L375.95 293.09 L376.01 293.59 L376.07 294.08 L376.12 294.58 L376.17 295.08 L376.22 295.58 L376.27 296.07 L376.32 296.57 L376.38 297.07 L376.43 297.57 L376.48 298.06 L376.53 298.56 L376.58 299.06 L376.63 299.56 L376.69 300.05 L376.75 300.55 L376.81 301.05 L376.87 301.54 L376.93 302.04 L377.01 302.53 L377.09 303.02 L377.19 303.51 L377.32 303.96 L377.52 304.26 L377.75 304.23 L377.95 303.90 L378.10 303.44 L378.23 302.96 L378.33 302.47 L378.43 301.98 L378.52 301.49 L378.61 301.00 L378.70 300.50 L378.78 300.01 L378.86 299.52 L378.93 299.02 L379.01 298.53 L379.08 298.03 L379.15 297.54 L379.22 297.04 L379.29 296.55 L379.36 296.05 L379.42 295.56 L379.49 295.06 L379.56 294.57 L379.62 294.07 L379.69 293.57 L379.75 293.08 L379.81 292.58 L379.88 292.09 L379.94 291.59 L380.00 291.09 L380.06 290.60 L380.12 290.10 L380.18 289.61 L380.23 289.11 L380.29 288.61 L380.34 288.11 L380.39 287.62 L380.44 287.12 L380.48 286.62 L380.53 286.12 L380.58 285.63 L380.62 285.13 L380.67 284.63 L380.71 284.13 L380.76 283.63 L380.80 283.14 L380.85 282.64 L380.89 282.14 L380.94 281.64 L380.99 281.14 L381.04 280.65 L381.09 280.15 L381.14 279.65 L381.19 279.15 L381.24 278.66 L381.29 278.16 L381.34 277.66 L381.40 277.16 L381.45 276.67 L381.50 276.17 L381.56 275.67 L381.61 275.18 L381.66 274.68 L381.72 274.18 L381.77 273.68 L381.82 273.19 L381.87 272.69 L381.92 272.19 L381.98 271.70 L382.03 271.20 L382.08 270.70 L382.12 270.20 L382.17 269.71 L382.22 269.21 L382.26 268.71 L382.31 268.21 L382.35 267.71 L382.39 267.22 L382.44 266.72 L382.48 266.22 L382.52 265.72 L382.56 265.22 L382.60 264.72 L382.64 264.22 L382.68 263.73 L382.72 263.23 L382.75 262.73 L382.79 262.23 L382.83 261.73 L382.87 261.23 L382.91 260.74 L382.95 260.24 L382.99 259.74 L383.03 259.24 L383.07 258.74 L383.11 258.24 L383.15 257.75 L383.20 257.25 L383.24 256.75 L383.28 256.25 L383.33 255.75 L383.38 255.26 L383.42 254.76 L383.47 254.26 L383.51 253.76 L383.56 253.26 L383.60 252.77 L383.65 252.27 L383.69 251.77 L383.74 251.27 L383.78 250.77 L383.83 250.28 L383.87 249.78 L383.92 249.28 L383.97 248.78 L384.03 248.29 L384.08 247.79 L384.14 247.29 L384.20 246.80 L384.26 246.30 L384.33 245.80 L384.40 245.31 L384.47 244.81 L384.55 244.32 L384.63 243.83 L384.72 243.34 L384.81 242.84 L384.91 242.35 L385.01 241.86 L385.12 241.38 L385.24 240.89 L385.37 240.41 L385.51 239.93 L385.69 239.48 L385.93 239.16 L386.20 239.11 L386.45 239.38 L386.64 239.81 L386.80 240.28 L386.93 240.77 L387.05 241.25 L387.16 241.74 L387.26 242.23 L387.36 242.72 L387.46 243.21 L387.55 243.70 L387.63 244.19 L387.71 244.69 L387.79 245.18 L387.86 245.68 L387.93 246.17 L387.99 246.67 L388.06 247.16 L388.12 247.66 L388.18 248.16 L388.23 248.65 L388.29 249.15 L388.34 249.65 L388.39 250.15 L388.43 250.64 L388.48 251.14 L388.53 251.64 L388.57 252.14 L388.62 252.63 L388.66 253.13 L388.70 253.63 L388.74 254.13 L388.78 254.63 L388.83 255.13 L388.87 255.62 L388.91 256.12 L388.95 256.62 L388.99 257.12 L389.03 257.62 L389.07 258.12 L389.11 258.61 L389.15 259.11 L389.19 259.61 L389.22 260.11 L389.26 260.61 L389.29 261.11 L389.33 261.61 L389.36 262.11 L389.40 262.60 L389.43 263.10 L389.46 263.60 L389.50 264.10 L389.53 264.60 L389.56 265.10 L389.59 265.60 L389.63 266.10 L389.66 266.60 L389.69 267.09 L389.72 267.59 L389.75 268.09 L389.78 268.59 L389.81 269.09 L389.85 269.59 L389.88 270.09 L389.91 270.59 L389.94 271.09 L389.97 271.59 L390.01 272.08 L390.04 272.58 L390.07 273.08 L390.10 273.58 L390.13 274.08 L390.16 274.58 L390.19 275.08 L390.22 275.58 L390.24 276.08 L390.27 276.58 L390.30 277.08 L390.33 277.57 L390.36 278.07 L390.39 278.57 L390.41 279.07 L390.44 279.57 L390.47 280.07 L390.50 280.57 L390.53 281.07 L390.56 281.57 L390.60 282.07 L390.63 282.57 L390.66 283.06 L390.70 283.56 L390.73 284.06 L390.77 284.56 L390.80 285.06 L390.84 285.56 L390.88 286.06 L390.92 286.56 L390.96 287.05 L390.99 287.55 L391.03 288.05 L391.07 288.55 L391.11 289.05 L391.15 289.55 L391.19 290.04 L391.24 290.54 L391.28 291.04 L391.33 291.54 L391.38 292.04 L391.43 292.53 L391.48 293.03 L391.53 293.53 L391.59 294.02 L391.65 294.52 L391.71 295.02 L391.78 295.51 L391.85 296.01 L391.92 296.50 L392.00 297.00 L392.09 297.49 L392.18 297.98 L392.27 298.47 L392.37 298.96 L392.48 299.45 L392.59 299.94 L392.71 300.42 L392.84 300.90 L392.98 301.38 L393.14 301.86 L393.33 302.30 L393.58 302.64 L393.88 302.72 L394.16 302.48 L394.38 302.07 L394.55 301.60 L394.70 301.12 L394.83 300.64 L394.95 300.16 L395.07 299.67 L395.18 299.18 L395.28 298.70 L395.38 298.21 L395.47 297.71 L395.56 297.22 L395.64 296.73 L395.71 296.23 L395.79 295.74 L395.85 295.24 L395.91 294.75 L395.97 294.25 L396.03 293.75 L396.08 293.26 L396.13 292.76 L396.18 292.26 L396.23 291.76 L396.28 291.27 L396.32 290.77 L396.36 290.27 L396.40 289.77 L396.44 289.27 L396.48 288.77 L396.52 288.28 L396.56 287.78 L396.61 287.28 L396.65 286.78 L396.69 286.28 L396.73 285.78 L396.77 285.29 L396.82 284.79 L396.86 284.29 L396.91 283.79 L396.95 283.29 L397.00 282.80 L397.04 282.30 L397.09 281.80 L397.13 281.30 L397.17 280.80 L397.22 280.31 L397.26 279.81 L397.30 279.31 L397.34 278.81 L397.39 278.31 L397.43 277.81 L397.47 277.32 L397.51 276.82 L397.55 276.32 L397.59 275.82 L397.63 275.32 L397.67 274.82 L397.71 274.33 L397.75 273.83 L397.79 273.33 L397.83 272.83 L397.87 272.33 L397.91 271.83 L397.95 271.34 L397.99 270.84 L398.03 270.34 L398.07 269.84 L398.10 269.34 L398.14 268.84 L398.18 268.34 L398.22 267.85 L398.25 267.35 L398.29 266.85 L398.32 266.35 L398.36 265.85 L398.40 265.35 L398.43 264.85 L398.47 264.36 L398.50 263.86 L398.54 263.36 L398.58 262.86 L398.61 262.36 L398.65 261.86 L398.68 261.36 L398.72 260.86 L398.76 260.37 L398.80 259.87 L398.83 259.37 L398.87 258.87 L398.91 258.37 L398.95 257.87 L398.99 257.37 L399.03 256.88 L399.07 256.38 L399.11 255.88 L399.15 255.38 L399.19 254.88 L399.23 254.38 L399.27 253.89 L399.31 253.39 L399.35 252.89 L399.39 252.39 L399.44 251.89 L399.48 251.39 L399.52 250.90 L399.56 250.40 L399.60 249.90 L399.64 249.40 L399.69 248.90 L399.73 248.41 L399.78 247.91 L399.82 247.41 L399.87 246.91 L399.92 246.41 L399.97 245.92 L400.02 245.42 L400.07 244.92 L400.12 244.42 L400.18 243.93 L400.23 243.43 L400.29 242.93 L400.35 242.44 L400.41 241.94 L400.47 241.44 L400.53 240.95 L400.59 240.45 L400.65 239.96 L400.71 239.46 L400.78 238.96 L400.84 238.47 L400.90 237.97 L400.97 237.48 L401.04 236.98 L401.11 236.49 L401.18 235.99 L401.25 235.50 L401.33 235.00 L401.41 234.51 L401.50 234.02 L401.60 233.53 L401.71 233.04 L401.84 232.57 L402.03 232.21 L402.26 232.13 L402.48 232.37 L402.63 232.81 L402.76 233.29 L402.86 233.78 L402.95 234.27 L403.04 234.76 L403.12 235.25 L403.19 235.75 L403.27 236.24 L403.34 236.74 L403.41 237.23 L403.47 237.73 L403.54 238.22 L403.60 238.72 L403.66 239.22 L403.73 239.71 L403.79 240.21 L403.85 240.71 L403.91 241.20 L403.96 241.70 L404.02 242.19 L404.08 242.69 L404.13 243.19 L404.19 243.69 L404.24 244.18 L404.29 244.68 L404.34 245.18 L404.39 245.68 L404.43 246.17 L404.48 246.67 L404.52 247.17 L404.57 247.67 L404.61 248.17 L404.65 248.66 L404.69 249.16 L404.73 249.66 L404.77 250.16 L404.81 250.66 L404.85 251.16 L404.88 251.65 L404.92 252.15 L404.96 252.65 L404.99 253.15 L405.03 253.65 L405.07 254.15 L405.10 254.65 L405.14 255.15 L405.17 255.64 L405.21 256.14 L405.25 256.64 L405.28 257.14 L405.32 257.64 L405.35 258.14 L405.39 258.64 L405.42 259.14 L405.45 259.63 L405.49 260.13 L405.52 260.63 L405.55 261.13 L405.59 261.63 L405.62 262.13 L405.65 262.63 L405.68 263.13 L405.71 263.63 L405.75 264.12 L405.78 264.62 L405.81 265.12 L405.84 265.62 L405.87 266.12 L405.90 266.62 L405.93 267.12 L405.96 267.62 L405.98 268.12 L406.01 268.62 L406.04 269.12 L406.07 269.62 L406.10 270.11 L406.12 270.61 L406.15 271.11 L406.18 271.61 L406.21 272.11 L406.23 272.61 L406.26 273.11 L406.28 273.61 L406.30 274.11 L406.33 274.61 L406.35 275.11 L406.37 275.61 L406.39 276.11 L406.42 276.61 L406.44 277.11 L406.46 277.61 L406.48 278.11 L406.50 278.61 L406.52 279.10 L406.54 279.60 L406.56 280.10 L406.58 280.60 L406.60 281.10 L406.62 281.60 L406.65 282.10 L406.67 282.60 L406.69 283.10 L406.72 283.60 L406.74 284.10 L406.77 284.60 L406.79 285.10 L406.82 285.60 L406.85 286.10 L406.88 286.60 L406.91 287.10 L406.94 287.59 L406.97 288.09 L407.00 288.59 L407.03 289.09 L407.06 289.59 L407.09 290.09 L407.13 290.59 L407.16 291.09 L407.20 291.59 L407.23 292.08 L407.27 292.58 L407.31 293.08 L407.35 293.58 L407.39 294.08 L407.44 294.58 L407.48 295.07 L407.53 295.57 L407.58 296.07 L407.63 296.57 L407.69 297.06 L407.75 297.56 L407.81 298.06 L407.87 298.55 L407.94 299.05 L408.01 299.54 L408.09 300.04 L408.17 300.53 L408.26 301.02 L408.35 301.51 L408.45 302.00 L408.56 302.49 L408.67 302.98 L408.79 303.46 L408.92 303.95 L409.06 304.42 L409.22 304.90 L409.41 305.36 L409.65 305.75 L409.96 305.95 L410.29 305.85 L410.58 305.51 L410.81 305.08 L411.00 304.62 L411.18 304.15 L411.34 303.68 L411.49 303.21 L411.64 302.73 L411.78 302.25 L411.92 301.77 L412.05 301.29 L412.18 300.80 L412.31 300.32 L412.44 299.84 L412.56 299.35 L412.68 298.87 L412.80 298.38 L412.90 297.89 L413.00 297.40 L413.10 296.91 L413.19 296.42 L413.27 295.93 L413.35 295.43 L413.42 294.94 L413.49 294.44 L413.56 293.95 L413.64 293.45 L413.71 292.96 L413.78 292.46 L413.86 291.97 L413.94 291.48 L414.03 290.98 L414.12 290.49 L414.22 290.00 L414.32 289.51 L414.44 289.03 L414.56 288.54 L414.70 288.06 L414.84 287.58 L414.98 287.10 L415.13 286.63 L415.29 286.15 L415.46 285.68 L415.65 285.22 L415.86 284.77 L416.12 284.36 L416.45 284.07 L416.83 284.01 L417.20 284.22 L417.52 284.57 L417.79 284.99 L418.04 285.42 L418.26 285.87 L418.47 286.33 L418.65 286.79 L418.81 287.26 L418.95 287.74 L419.08 288.23 L419.19 288.71 L419.30 289.20 L419.40 289.69 L419.49 290.18 L419.58 290.68 L419.66 291.17 L419.73 291.66 L419.80 292.16 L419.87 292.65 L419.94 293.15 L420.00 293.64 L420.06 294.14 L420.13 294.64 L420.19 295.13 L420.25 295.63 L420.31 296.13 L420.38 296.62 L420.45 297.12 L420.52 297.61 L420.59 298.11 L420.67 298.60 L420.75 299.09 L420.83 299.59 L420.90 300.08 L420.98 300.58 L421.05 301.07 L421.12 301.57 L421.19 302.06 L421.26 302.56 L421.33 303.05 L421.40 303.55 L421.47 304.04 L421.55 304.53 L421.62 305.03 L421.70 305.52 L421.78 306.02 L421.86 306.51 L421.95 307.00 L422.05 307.49 L422.14 307.98 L422.25 308.47 L422.36 308.96 L422.48 309.45 L422.60 309.93 L422.74 310.41 L422.88 310.89 L423.03 311.37 L423.19 311.84 L423.36 312.31 L423.55 312.77 L423.75 313.23 L423.96 313.68 L424.21 314.11 L424.51 314.48 L424.88 314.70 L425.27 314.66 L425.63 314.40 L425.93 314.01 L426.19 313.59 L426.42 313.14 L426.63 312.69 L426.84 312.24 L427.04 311.78 L427.24 311.32 L427.44 310.86 L427.64 310.40 L427.84 309.95 L428.06 309.49 L428.27 309.04 L428.48 308.59 L428.68 308.13 L428.87 307.67 L429.05 307.20 L429.22 306.73 L429.39 306.26 L429.56 305.79 L429.73 305.32 L429.91 304.86 L430.10 304.39 L430.30 303.94 L430.53 303.49 L430.80 303.09 L431.14 302.78 L431.54 302.68 L431.92 302.84 L432.25 303.18 L432.52 303.59 L432.77 304.03 L432.99 304.47 L433.20 304.93 L433.40 305.38 L433.60 305.84 L433.79 306.30 L433.98 306.77 L434.17 307.23 L434.34 307.70 L434.50 308.17 L434.66 308.65 L434.80 309.13 L434.95 309.61 L435.08 310.09 L435.22 310.57 L435.35 311.05 L435.49 311.53 L435.63 312.01 L435.77 312.49 L435.92 312.97 L436.08 313.44 L436.24 313.92 L436.39 314.39 L436.55 314.87 L436.70 315.34 L436.86 315.82 L437.03 316.29 L437.22 316.75 L437.44 317.20 L437.68 317.63 L437.96 318.04 L438.28 318.42 L438.64 318.77 L439.02 319.09 L439.43 319.36 L439.88 319.55 L440.35 319.61 L440.81 319.51 L441.25 319.29 L441.65 319.00 L442.02 318.67 L442.39 318.34 L442.77 318.00 L443.16 317.69 L443.56 317.40 L443.96 317.10 L444.37 316.81 L444.78 316.52 L445.19 316.25 L445.63 316.01 L446.09 315.84 L446.57 315.77 L447.04 315.84 L447.50 316.01 L447.92 316.27 L448.32 316.57 L448.71 316.88 L449.09 317.20 L449.48 317.52 L449.87 317.83 L450.26 318.15 L450.64 318.47 L451.01 318.80 L451.39 319.13 L451.76 319.46 L452.15 319.77 L452.56 320.07 L452.98 320.34 L453.40 320.60 L453.83 320.86 L454.26 321.11 L454.70 321.35 L455.15 321.57 L455.61 321.75 L456.09 321.88 L456.58 321.96 L457.08 321.98 L457.58 321.97 L458.08 321.93 L458.57 321.89 L459.07 321.84 L459.57 321.80 L460.07 321.76 L460.57 321.73 L461.07 321.72 L461.56 321.74 L462.05 321.82 L462.54 321.93 L463.01 322.08 L463.48 322.26 L463.95 322.44 L464.42 322.62 L464.88 322.79 L465.36 322.95 L465.84 323.10 L466.31 323.24 L466.79 323.39 L467.27 323.53 L467.75 323.66 L468.24 323.78 L468.73 323.89 L469.22 323.97 L469.72 324.03 L470.21 324.07 L470.71 324.11 L471.21 324.14 L471.71 324.16 L472.21 324.19 L472.71 324.22 L473.21 324.25 L473.71 324.28 L474.21 324.32 L474.70 324.37 L475.20 324.43 L475.70 324.50 L476.19 324.57 L476.68 324.65 L477.18 324.73 L477.67 324.81 L478.16 324.89 L478.66 324.97 L479.15 325.06 L479.64 325.13 L480.14 325.21 L480.63 325.28 L481.13 325.34 L481.63 325.39 L482.13 325.43 L482.62 325.47 L483.12 325.49 L483.62 325.50 L484.12 325.49 L484.62 325.49 L485.12 325.48 L485.62 325.46 L486.12 325.45 L486.62 325.43 L487.12 325.41 L487.62 325.38 L488.12 325.36 L488.62 325.34 L489.12 325.31 L489.62 325.29 L490.12 325.27 L490.62 325.25 L491.12 325.24 L491.62 325.22 L492.12 325.21 L492.62 325.20 L493.12 325.20 L493.62 325.21 L494.12 325.22 L494.62 325.24 L495.12 325.26 L495.62 325.29 L496.11 325.32 L496.61 325.36 L497.11 325.40 L497.61 325.44 L498.11 325.49 L498.61 325.53 L499.10 325.58 L499.60 325.62 L500.10 325.67 L500.60 325.71 L501.10 325.75 L501.59 325.79 L502.09 325.82 L502.59 325.85 L503.09 325.87 L503.59 325.89 L504.09 325.91 L504.59 325.92 L505.09 325.93 L505.59 325.94 L506.09 325.95 L506.59 325.96 L507.09 325.97 L507.59 325.98 L508.09 325.99 L508.59 326.00 L509.09 326.01 L509.59 326.02 L510.09 326.03 L510.59 326.03 L511.09 326.04 L511.59 326.05 L512.09 326.06 L512.59 326.06 L513.09 326.07 L513.59 326.07 L514.09 326.08 L514.59 326.08 L515.09 326.09 L515.59 326.09 L516.09 326.09 L516.59 326.10 L517.09 326.10 L517.59 326.10 L518.05 326.10 L518.39 326.10"/>
</g>
<g stroke="#000" stroke-width="1.7" fill="none">
<polyline points="1,334.1 84,334.0 160,333.8 263.8,333.5"/>
<polyline points="1,349.4 110,349.2 160,349.0 263.8,348.5"/>
<polyline points="270.5,332.3 311,332.5 385,332.8 460,333.3 518.8,334.1"/>
<polyline points="271,347.5 290,347.5 390,347.9 500,349.1 518.8,349.3"/>
</g>
<line x1="33" y1="334" x2="33" y2="337.8" stroke="#000" stroke-width="1.8"/><text x="33.3" y="345.8" class="tk tb">360</text><line x1="84" y1="334" x2="84" y2="337.8" stroke="#000" stroke-width="1.8"/><text x="84.3" y="345.8" class="tk tb">370</text><line x1="135" y1="334" x2="135" y2="337.8" stroke="#000" stroke-width="1.8"/><text x="135.3" y="345.8" class="tk tb">380</text><line x1="186" y1="334" x2="186" y2="337.8" stroke="#000" stroke-width="1.8"/><text x="186.3" y="345.8" class="tk tb">390</text><line x1="237.5" y1="334" x2="237.5" y2="337.8" stroke="#000" stroke-width="1.8"/><text x="237.8" y="345.8" class="tk tb">400</text><line x1="311" y1="332.5" x2="311" y2="336.5" stroke="#000" stroke-width="1.8"/><text x="311.4" y="344.20" class="tk tb">250</text><line x1="361.2" y1="332.8765" x2="361.2" y2="336.8765" stroke="#000" stroke-width="1.8"/><text x="361.59999999999997" y="344.58" class="tk tb">260</text><line x1="411.1" y1="333.25075" x2="411.1" y2="337.25075" stroke="#000" stroke-width="1.8"/><text x="411.5" y="344.95" class="tk tb">270</text><line x1="460.2" y1="333.619" x2="460.2" y2="337.619" stroke="#000" stroke-width="1.8"/><text x="460.59999999999997" y="345.32" class="tk tb">280</text><line x1="510.1" y1="333.99325" x2="510.1" y2="337.99325" stroke="#000" stroke-width="1.8"/><text x="510.5" y="345.69" class="tk tb">290</text>
<text x="80.5" y="376" class="xl">Fragment length (bp)</text>
<text x="325.9" y="376.3" class="xl">Fragment length (bp)</text>
</svg>
</body></html>
